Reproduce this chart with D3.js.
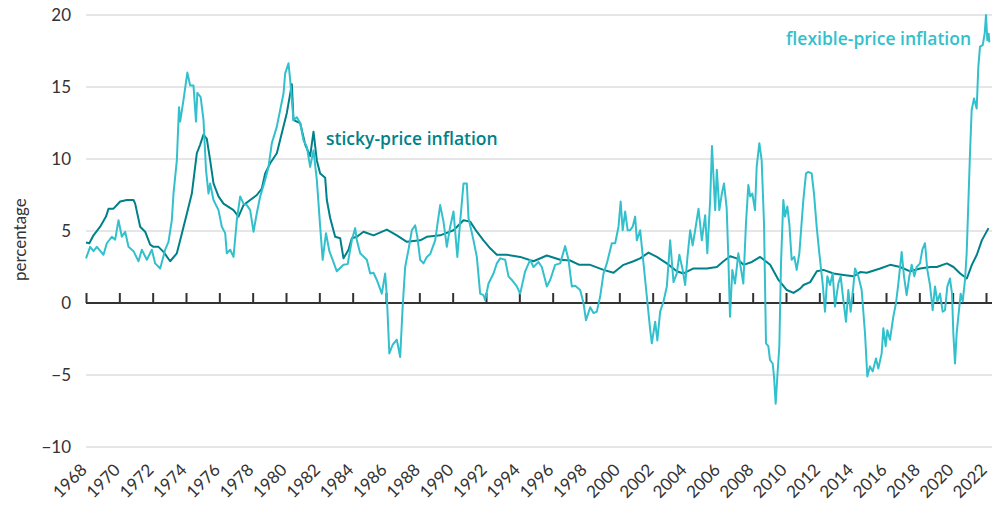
<!DOCTYPE html>
<html>
<head>
<meta charset="utf-8">
<script src="https://cdn.jsdelivr.net/npm/d3@7"></script>
<style>
  html, body { margin: 0; padding: 0; background: #fff; }
  svg { display: block; font-family: Lato, "Open Sans", sans-serif; }
</style>
</head>
<body>
<svg id="chart" width="992" height="506"></svg>
<script>
// ---- data (decimal years, percent) ----
const stickyDates = [1968.0,1968.2,1968.45,1968.85,1969.2,1969.35,1969.65,1970.05,1970.45,1970.85,1970.95,1971.25,1971.55,1971.85,1972.05,1972.35,1972.65,1973.05,1973.45,1973.65,1974.05,1974.35,1974.65,1974.85,1975.05,1975.25,1975.45,1975.65,1975.95,1976.25,1976.85,1977.15,1977.45,1977.85,1978.25,1978.55,1978.75,1979.05,1979.45,1979.75,1980.05,1980.35,1980.45,1980.85,1981.15,1981.45,1981.65,1981.85,1982.05,1982.35,1982.45,1982.65,1982.95,1983.25,1983.45,1983.75,1983.95,1984.25,1984.65,1985.25,1986.05,1986.65,1987.25,1988.05,1988.45,1989.25,1990.05,1990.65,1991.05,1991.45,1991.85,1992.25,1992.65,1993.25,1994.05,1994.85,1995.65,1996.45,1997.05,1997.6,1998.25,1999.05,1999.65,2000.25,2000.85,2001.25,2001.75,2002.25,2002.85,2003.45,2003.85,2004.45,2005.25,2005.85,2006.25,2006.65,2007.05,2007.45,2007.95,2008.45,2009.05,2009.55,2010.05,2010.45,2010.85,2011.05,2011.45,2011.85,2012.25,2012.85,2013.45,2014.05,2014.45,2014.85,2015.65,2016.25,2016.85,2017.45,2018.05,2018.65,2019.05,2019.65,2020.05,2020.45,2020.85,2021.15,2021.45,2021.75,2022.15];
const stickyValues = [4.2,4.15,4.7,5.3,6.0,6.55,6.55,7.05,7.15,7.15,6.9,5.3,4.95,4.05,3.9,3.9,3.55,2.9,3.45,4.35,6.2,7.6,10.4,11.0,11.7,11.4,9.9,8.3,7.4,6.9,6.45,6.0,6.8,7.15,7.5,7.95,9.0,9.7,10.4,11.8,13.2,15.2,12.7,12.5,11.0,10.2,11.9,9.9,9.0,8.7,7.15,5.9,4.6,4.5,3.1,3.7,4.5,4.6,4.95,4.7,5.1,4.7,4.25,4.35,4.6,4.7,5.05,5.75,5.65,4.95,4.35,3.8,3.35,3.35,3.2,2.9,3.3,3.0,2.95,2.65,2.65,2.3,2.1,2.65,2.9,3.1,3.5,3.2,2.75,2.2,2.05,2.4,2.4,2.5,2.9,3.25,3.1,2.65,2.85,3.2,2.65,1.6,0.9,0.7,1.0,1.25,1.45,2.2,2.3,2.05,1.95,1.85,2.15,2.1,2.4,2.65,2.5,2.2,2.4,2.5,2.5,2.75,2.5,2.05,1.7,2.65,3.35,4.35,5.2];

const flexDates = [1968.0,1968.25,1968.45,1968.65,1969.05,1969.25,1969.55,1969.75,1969.95,1970.15,1970.35,1970.55,1970.85,1971.15,1971.35,1971.65,1971.95,1972.15,1972.45,1972.75,1972.95,1973.15,1973.25,1973.45,1973.58,1973.65,1973.85,1974.08,1974.25,1974.45,1974.6,1974.68,1974.88,1975.05,1975.2,1975.35,1975.45,1975.65,1975.95,1976.15,1976.35,1976.45,1976.65,1976.85,1977.05,1977.25,1977.45,1977.65,1977.85,1978.05,1978.25,1978.45,1978.75,1978.95,1979.15,1979.45,1979.65,1979.85,1979.95,1980.15,1980.25,1980.45,1980.65,1980.85,1981.05,1981.25,1981.45,1981.65,1981.85,1982.05,1982.2,1982.4,1982.6,1982.8,1983.05,1983.45,1983.7,1983.95,1984.15,1984.25,1984.45,1984.85,1985.05,1985.25,1985.45,1985.75,1985.95,1986.05,1986.2,1986.4,1986.65,1986.85,1987.0,1987.15,1987.35,1987.55,1987.75,1987.88,1988.05,1988.25,1988.45,1988.65,1988.95,1989.25,1989.45,1989.65,1989.85,1990.05,1990.28,1990.45,1990.65,1990.85,1990.95,1991.25,1991.45,1991.65,1991.85,1991.95,1992.15,1992.45,1992.65,1992.85,1993.15,1993.35,1993.55,1993.85,1994.05,1994.35,1994.65,1994.85,1995.15,1995.35,1995.65,1995.85,1996.15,1996.45,1996.75,1996.95,1997.15,1997.35,1997.65,1997.85,1998.0,1998.25,1998.45,1998.65,1998.85,1999.05,1999.25,1999.55,1999.75,1999.95,2000.08,2000.2,2000.35,2000.5,2000.65,2000.8,2000.95,2001.05,2001.25,2001.45,2001.65,2001.85,2001.95,2002.15,2002.28,2002.45,2002.65,2002.85,2003.05,2003.25,2003.45,2003.6,2003.8,2003.95,2004.08,2004.25,2004.4,2004.55,2004.75,2004.95,2005.15,2005.28,2005.45,2005.56,2005.75,2005.85,2006.0,2006.15,2006.28,2006.44,2006.54,2006.64,2006.78,2006.94,2007.14,2007.28,2007.44,2007.6,2007.74,2007.85,2007.98,2008.14,2008.24,2008.4,2008.54,2008.68,2008.8,2008.94,2009.04,2009.2,2009.28,2009.38,2009.48,2009.6,2009.7,2009.84,2009.94,2010.08,2010.2,2010.34,2010.5,2010.64,2010.8,2011.04,2011.2,2011.34,2011.54,2011.68,2011.84,2012.0,2012.2,2012.34,2012.48,2012.64,2012.8,2012.94,2013.14,2013.28,2013.44,2013.6,2013.74,2013.88,2014.04,2014.14,2014.34,2014.54,2014.74,2014.88,2015.04,2015.2,2015.4,2015.54,2015.74,2015.84,2015.98,2016.08,2016.24,2016.44,2016.6,2016.74,2016.94,2017.08,2017.24,2017.4,2017.54,2017.7,2017.84,2018.04,2018.18,2018.34,2018.48,2018.64,2018.8,2018.94,2019.08,2019.24,2019.4,2019.54,2019.68,2019.84,2019.96,2020.04,2020.14,2020.24,2020.34,2020.48,2020.6,2020.74,2020.84,2020.94,2021.04,2021.14,2021.28,2021.44,2021.54,2021.64,2021.8,2021.92,2022.0,2022.08,2022.16,2022.2];
const flexValues = [3.1,3.9,3.6,3.9,3.35,4.15,4.6,4.4,5.75,4.6,4.95,3.9,3.6,2.9,3.7,3.0,3.7,2.75,2.4,3.7,4.25,5.75,7.6,9.9,13.6,12.6,14.1,16.0,15.1,15.1,12.6,14.6,14.3,12.7,9.25,7.6,8.3,7.15,6.45,5.3,4.85,3.45,3.7,3.2,5.75,7.4,6.9,6.8,6.45,4.95,6.25,7.4,8.55,9.45,11.1,12.25,13.4,14.55,15.95,16.65,15.5,12.7,12.9,12.5,11.3,10.85,9.45,10.6,8.55,5.3,3.0,4.85,3.6,3.0,2.2,2.65,2.7,4.35,5.2,4.35,3.45,3.0,2.05,2.1,1.6,0.65,2.05,0.45,-3.5,-2.9,-2.55,-3.75,-0.25,2.5,3.7,5.05,5.4,4.6,3.0,2.75,3.2,3.4,4.35,6.8,5.65,3.9,5.3,6.35,3.2,5.65,8.3,8.3,5.9,4.35,3.2,0.65,0.55,0.2,1.35,2.05,2.75,3.1,3.0,1.85,1.6,1.15,0.65,2.2,3.0,2.5,2.85,2.5,1.15,1.6,2.65,2.75,3.95,3.0,1.15,1.2,0.9,0.0,-1.2,-0.3,-0.7,-0.6,0.45,2.05,2.75,4.15,4.15,5.3,7.05,5.05,6.35,5.05,5.05,5.3,6.0,4.35,5.05,2.75,0.45,-1.85,-2.8,-1.3,-2.6,-0.6,0.1,1.15,4.35,1.45,2.05,3.35,2.3,1.25,3.1,5.05,4.0,5.05,6.55,4.35,6.1,3.45,7.15,10.9,6.45,9.25,6.45,7.6,8.3,6.6,3.2,-0.95,2.3,1.35,3.45,2.5,1.35,5.55,8.2,7.4,7.6,6.45,9.45,11.1,9.9,5.55,-2.8,-3.0,-3.95,-4.2,-5.1,-7.0,-5.1,-3.0,2.75,7.15,6.0,6.7,5.5,3.0,3.2,2.3,3.45,7.15,9.0,9.1,9.0,7.6,5.3,3.45,1.35,-0.6,1.85,1.25,2.05,-0.25,1.35,1.85,0.2,-1.3,0.9,-0.6,1.15,2.4,1.85,0.9,-2.1,-5.1,-4.4,-4.75,-3.85,-4.55,-3.5,-1.75,-3.0,-1.9,-2.55,-0.95,0.0,1.35,3.55,1.85,0.55,1.85,2.65,1.85,2.5,2.75,3.7,4.15,2.3,1.25,-0.5,1.15,0.1,0.65,-0.6,-0.5,1.15,1.7,0.65,-2.1,-4.2,-2.1,-0.95,0.65,0.1,1.6,3.45,6.9,10.4,13.4,14.2,13.5,16.4,17.8,17.9,18.7,20.0,18.25,18.7,18.1];

const yTicks = [-10, -5, 0, 5, 10, 15, 20];
const xTickYears = d3.range(1968, 2023, 2);
const seriesLabels = ["sticky-price inflation", "flexible-price inflation"];

// ---- drawing ----
const svg = d3.select("#chart");
const W = 992;
const x = d3.scaleLinear().domain([1968, 2022]).range([86, 986]);
const y = d3.scaleLinear().domain([-10, 20]).range([447, 15]);

const stickyColor = "#00818a";
const flexColor = "#33c0cd";

// gridlines
svg.append("g").selectAll("line")
  .data(yTicks.filter(d => d !== 0))
  .join("line")
  .attr("x1", 86).attr("x2", W)
  .attr("y1", d => y(d)).attr("y2", d => y(d))
  .attr("stroke", "#e6e6e6").attr("stroke-width", 2);

// y labels
svg.append("g").selectAll("text")
  .data(yTicks)
  .join("text")
  .attr("x", 71).attr("y", d => y(d))
  .attr("dy", "0.36em")
  .attr("text-anchor", "end")
  .attr("font-size", 17)
  .attr("fill", "#333")
  .text(d => d < 0 ? "\u2212" + Math.abs(d) : d);

svg.append("text")
  .attr("transform", `translate(26,${y(4.4)}) rotate(-90)`)
  .attr("text-anchor", "middle")
  .attr("font-size", 17)
  .attr("fill", "#333")
  .text("percentage");

// x axis via d3.axisTop at zero line
const xAxis = d3.axisTop(x).tickValues(xTickYears).tickSize(10).tickFormat("");
const gx = svg.append("g").attr("transform", `translate(0,${y(0)})`).call(xAxis);
gx.select(".domain").remove();
gx.selectAll(".tick line").attr("stroke", "#333").attr("stroke-width", 2);
svg.append("line")
  .attr("x1", 86).attr("x2", W)
  .attr("y1", y(0)).attr("y2", y(0))
  .attr("stroke", "#333").attr("stroke-width", 2);

// x labels
svg.append("g").selectAll("text")
  .data(xTickYears)
  .join("text")
  .attr("transform", d => `translate(${x(d) + 2},${471}) rotate(-45)`)
  .attr("text-anchor", "end")
  .attr("font-size", 17)
  .attr("fill", "#333")
  .text(d => d);

// lines
const line = d3.line().x(d => x(d[0])).y(d => y(d[1]));
svg.append("path")
  .datum(d3.zip(stickyDates, stickyValues))
  .attr("d", line)
  .attr("fill", "none")
  .attr("stroke", stickyColor)
  .attr("stroke-width", 2)
  .attr("stroke-linejoin", "round");
svg.append("path")
  .datum(d3.zip(flexDates, flexValues))
  .attr("d", line)
  .attr("fill", "none")
  .attr("stroke", flexColor)
  .attr("stroke-width", 2)
  .attr("stroke-linejoin", "round");

// series labels
svg.append("text")
  .attr("x", 326).attr("y", 139).attr("dy", "0.35em")
  .attr("font-family", "'Open Sans', Lato, sans-serif")
  .attr("font-size", 17.5).attr("font-weight", 600)
  .attr("fill", stickyColor)
  .text(seriesLabels[0]);
svg.append("text")
  .attr("x", 971).attr("y", 39).attr("dy", "0.35em")
  .attr("text-anchor", "end")
  .attr("font-family", "'Open Sans', Lato, sans-serif")
  .attr("font-size", 17.5).attr("font-weight", 600)
  .attr("fill", flexColor)
  .text(seriesLabels[1]);
</script>
</body>
</html>
